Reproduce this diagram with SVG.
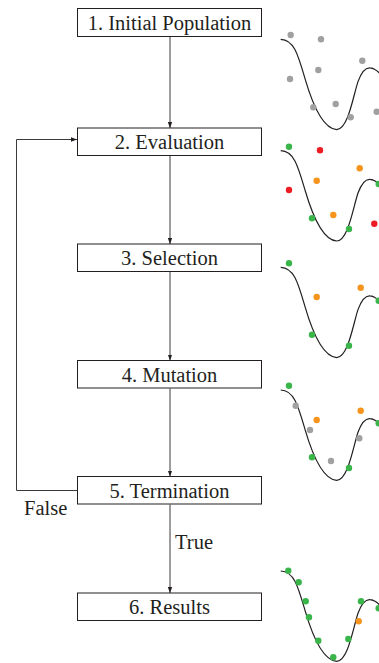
<svg xmlns="http://www.w3.org/2000/svg" width="379" height="663" viewBox="0 0 379 663">
<style>
.box{fill:#fff;stroke:#231f20;stroke-width:1}
text{font-family:"Times New Roman","Liberation Serif","DejaVu Serif",Times,serif;font-size:20.5px;fill:#231f20}
.lbl{text-anchor:middle}
.conn{fill:none;stroke:#3a3a3a;stroke-width:1}
.curve{fill:none;stroke:#231f20;stroke-width:1.2}
.g{fill:#39b54a}.r{fill:#ed1c24}.o{fill:#f7941d}.k{fill:#a0a0a0}
</style>
<defs>
<marker id="ah" viewBox="0 0 6 6" refX="6" refY="3" markerWidth="6" markerHeight="6" orient="auto" markerUnits="userSpaceOnUse">
<path d="M0,0.8 L6,3 L0,5.2 Z" fill="#231f20"/>
</marker>
<path id="wave" d="M280.7,150.7 C294,151 298,166 305,190 C312,214 322,240 336.7,241 C348,241 353,208 358,193 C362,182 366,179 370,179.3 C374,179.5 377,182 380,185"/>
</defs>
<g id="connectors">
<line class="conn" x1="170" y1="37" x2="170" y2="128" marker-end="url(#ah)"/>
<line class="conn" x1="170" y1="156" x2="170" y2="244" marker-end="url(#ah)"/>
<line class="conn" x1="170" y1="272" x2="170" y2="360.5" marker-end="url(#ah)"/>
<line class="conn" x1="170" y1="388.5" x2="170" y2="476.5" marker-end="url(#ah)"/>
<line class="conn" x1="170" y1="504.5" x2="170" y2="593" marker-end="url(#ah)"/>
<polyline class="conn" points="77,490.5 16.5,490.5 16.5,139.5 77,139.5" marker-end="url(#ah)"/>
<text x="24" y="515" font-family="Liberation Serif, serif">False</text>
<text x="175" y="549" font-family="Liberation Serif, serif">True</text>
</g>
<g id="nodes">
<g id="n1"><rect class="box" x="77.5" y="8.5" width="184" height="28"/><text class="lbl" x="169.5" y="29.5">1. Initial Population</text></g>
<g id="n2"><rect class="box" x="77.5" y="128" width="184" height="27.5"/><text class="lbl" x="169.5" y="149">2. Evaluation</text></g>
<g id="n3"><rect class="box" x="77.5" y="244" width="184" height="27.5"/><text class="lbl" x="169.5" y="265">3. Selection</text></g>
<g id="n4"><rect class="box" x="77.5" y="360.5" width="184" height="27.5"/><text class="lbl" x="169.5" y="381.5">4. Mutation</text></g>
<g id="n5"><rect class="box" x="77.5" y="476.5" width="184" height="27.5"/><text class="lbl" x="169.5" y="497.5">5. Termination</text></g>
<g id="n6"><rect class="box" x="77.5" y="593" width="184" height="27.5"/><text class="lbl" x="169.5" y="614">6. Results</text></g>
</g>
<g id="plot1">
<use href="#wave" class="curve" transform="translate(0,-111.4)"/>
<circle class="k" cx="290.7" cy="35" r="3.2"/>
<circle class="k" cx="321" cy="39.3" r="3.2"/>
<circle class="k" cx="362.3" cy="60.7" r="3.2"/>
<circle class="k" cx="318.3" cy="70" r="3.2"/>
<circle class="k" cx="290" cy="79" r="3.2"/>
<circle class="k" cx="313.3" cy="107.3" r="3.2"/>
<circle class="k" cx="335.7" cy="104" r="3.2"/>
<circle class="k" cx="350.7" cy="117.3" r="3.2"/>
<circle class="k" cx="376.7" cy="111.7" r="3.2"/>
</g>
<g id="plot2">
<use href="#wave" class="curve"/>
<circle class="g" cx="289" cy="146.7" r="3.2"/>
<circle class="r" cx="320" cy="150.3" r="3.2"/>
<circle class="o" cx="359.7" cy="168.3" r="3.2"/>
<circle class="o" cx="316.7" cy="180.7" r="3.2"/>
<circle class="r" cx="289" cy="190" r="3.2"/>
<circle class="g" cx="378.7" cy="184" r="3.2"/>
<circle class="g" cx="312" cy="218.3" r="3.2"/>
<circle class="o" cx="333.3" cy="215" r="3.2"/>
<circle class="g" cx="349" cy="229" r="3.2"/>
<circle class="r" cx="374.3" cy="223.7" r="3.2"/>
</g>
<g id="plot3">
<use href="#wave" class="curve" transform="translate(0,116.6)"/>
<circle class="g" cx="289" cy="263.3" r="3.2"/>
<circle class="o" cx="316.7" cy="297" r="3.2"/>
<circle class="o" cx="360.7" cy="287.7" r="3.2"/>
<circle class="g" cx="378.7" cy="300.7" r="3.2"/>
<circle class="g" cx="312" cy="334.7" r="3.2"/>
<circle class="g" cx="349" cy="345.7" r="3.2"/>
</g>
<g id="plot4">
<use href="#wave" class="curve" transform="translate(0,239.3)"/>
<circle class="g" cx="289" cy="385.7" r="3.2"/>
<circle class="k" cx="295.7" cy="405.7" r="3.2"/>
<circle class="o" cx="316.7" cy="420" r="3.2"/>
<circle class="o" cx="360.7" cy="410.7" r="3.2"/>
<circle class="k" cx="310" cy="430" r="3.2"/>
<circle class="g" cx="378.7" cy="423.3" r="3.2"/>
<circle class="k" cx="359.3" cy="438.3" r="3.2"/>
<circle class="g" cx="312" cy="457.3" r="3.2"/>
<circle class="k" cx="331" cy="461" r="3.2"/>
<circle class="g" cx="349" cy="468" r="3.2"/>
</g>
<g id="plot5">
<use href="#wave" class="curve" transform="translate(0,420.3)"/>
<circle class="g" cx="288.3" cy="570.7" r="3.2"/>
<circle class="g" cx="298.7" cy="582.3" r="3.2"/>
<circle class="g" cx="305.7" cy="601.3" r="3.2"/>
<circle class="g" cx="309" cy="617.3" r="3.2"/>
<circle class="g" cx="318.3" cy="640.7" r="3.2"/>
<circle class="g" cx="333.3" cy="657.3" r="3.2"/>
<circle class="g" cx="348.3" cy="639" r="3.2"/>
<circle class="o" cx="358.7" cy="621.3" r="3.2"/>
<circle class="g" cx="361" cy="601.3" r="3.2"/>
<circle class="g" cx="378.7" cy="608.3" r="3.2"/>
</g>
</svg>
